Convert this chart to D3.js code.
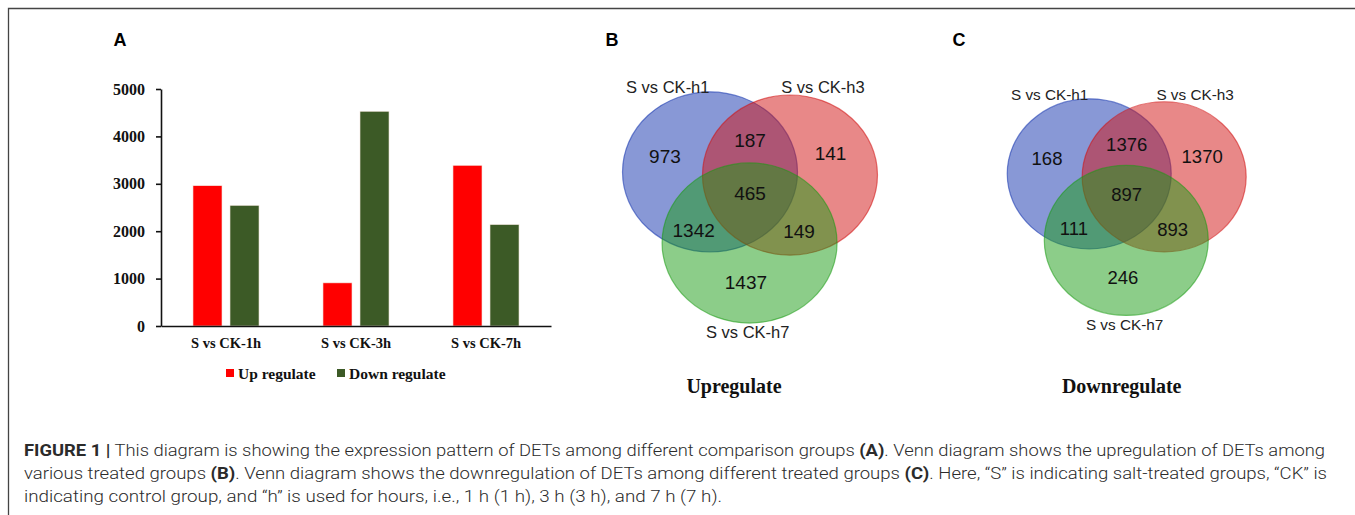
<!DOCTYPE html>
<html>
<head>
<meta charset="utf-8">
<script src="https://cdn.jsdelivr.net/npm/d3@7"></script>
<style>
  body { margin: 0; background: #fff; }
  svg { display: block; }
</style>
</head>
<body>
<div id="chart"></div>
<script>
// bar chart data (panel A)
let groups = ['S vs CK-1h', 'S vs CK-3h', 'S vs CK-7h']
let series = ['Up regulate', 'Down regulate']
let upValues = [2960, 910, 3390]
let downValues = [2545, 4530, 2140]
let yTicks = [0, 1000, 2000, 3000, 4000, 5000]

// venn data (panels B and C)
let vennSets = ['S vs CK-h1', 'S vs CK-h3', 'S vs CK-h7']
let vennRegions = ['h1', 'h1&h3', 'h3', 'h1&h3&h7', 'h1&h7', 'h3&h7', 'h7']
let upCounts = [973, 187, 141, 465, 1342, 149, 1437]
let downCounts = [168, 1376, 1370, 897, 111, 893, 246]

let barColors = { 'Up regulate': '#ff0000', 'Down regulate': '#3c5a26' }
let vennColors = ['#1131ad', '#d11111', '#199b13']

let svg = d3
  .select('#chart')
  .append('svg')
  .attr('width', 1355)
  .attr('height', 515)

// frame
svg
  .append('path')
  .attr('d', 'M8.5,515 V8.5 H1355')
  .attr('fill', 'none')
  .attr('stroke', '#444')
  .attr('stroke-width', 1.3)

// panel letters
let letters = [
  { t: 'A', x: 113.5 },
  { t: 'B', x: 605.5 },
  { t: 'C', x: 952.5 }
]
svg
  .selectAll('.panel-letter')
  .data(letters)
  .enter()
  .append('text')
  .attr('class', 'panel-letter')
  .attr('x', d => d.x)
  .attr('y', 46)
  .attr('font-family', 'Liberation Sans, Arial, sans-serif')
  .attr('font-weight', 'bold')
  .attr('font-size', 18)
  .text(d => d.t)

// ---------- panel A: grouped bars ----------
let xPositionScale = d3
  .scaleBand()
  .domain(groups)
  .range([161, 551])
  .paddingInner(0.492)
  .paddingOuter(0.246)

let xSubScale = d3
  .scaleBand()
  .domain(series)
  .range([0, xPositionScale.bandwidth()])
  .paddingInner(0.216)

let yPositionScale = d3.scaleLinear().domain([0, 5000]).range([326, 89])

let barData = groups.map((g, i) => ({
  group: g,
  values: [
    { key: 'Up regulate', value: upValues[i] },
    { key: 'Down regulate', value: downValues[i] }
  ]
}))

let barG = svg
  .selectAll('.bar-group')
  .data(barData)
  .enter()
  .append('g')
  .attr('class', 'bar-group')
  .attr('transform', d => `translate(${xPositionScale(d.group)},0)`)

barG
  .selectAll('rect')
  .data(d => d.values)
  .enter()
  .append('rect')
  .attr('x', d => xSubScale(d.key))
  .attr('width', xSubScale.bandwidth())
  .attr('y', d => yPositionScale(d.value))
  .attr('height', d => yPositionScale(0) - yPositionScale(d.value))
  .attr('fill', d => barColors[d.key])
  .attr('stroke', '#f4e8e0')
  .attr('stroke-width', 0.6)

let yAxis = d3
  .axisLeft(yPositionScale)
  .tickValues(yTicks)
  .tickFormat(d3.format('d'))
  .tickSize(5)
  .tickSizeOuter(0)
  .tickPadding(11)

let yAxisG = svg
  .append('g')
  .attr('class', 'axis y-axis')
  .attr('transform', 'translate(161,0)')
  .call(yAxis)

let xAxis = d3
  .axisBottom(xPositionScale)
  .tickSize(0)
  .tickSizeOuter(0)
  .tickPadding(11.5)

let xAxisG = svg
  .append('g')
  .attr('class', 'axis x-axis')
  .attr('transform', 'translate(0,326)')
  .call(xAxis)

svg
  .selectAll('.axis')
  .attr('font-family', 'Liberation Serif, Times New Roman, serif')
  .attr('font-weight', 'bold')
svg.selectAll('.axis path, .axis line').attr('stroke', '#111').attr('stroke-width', 1.6)
svg.selectAll('.axis text').attr('fill', '#111')
yAxisG.attr('font-size', 16)
xAxisG.attr('font-size', 14.5)

// legend
let legendX = [226, 337]
let legend = svg
  .selectAll('.legend-item')
  .data(series)
  .enter()
  .append('g')
  .attr('class', 'legend-item')
  .attr('transform', (d, i) => `translate(${legendX[i]},369)`)

legend
  .append('rect')
  .attr('width', 8)
  .attr('height', 8)
  .attr('fill', d => barColors[d])

legend
  .append('text')
  .attr('x', 12)
  .attr('y', 10)
  .attr('font-family', 'Liberation Serif, Times New Roman, serif')
  .attr('font-weight', 'bold')
  .attr('font-size', 15.5)
  .attr('fill', '#111')
  .text(d => d)

// ---------- panels B and C: venn diagrams ----------
// layout in units of the ellipse x-radius
let circleOffsets = [
  { dx: -0.457, dy: -0.018 },
  { dx: 0.457, dy: 0.018 },
  { dx: -0.005, dy: 0.794 }
]
let regionOffsets = [
  { dx: -0.972, dy: -0.2 },
  { dx: 0, dy: -0.38 },
  { dx: 0.92, dy: -0.228 },
  { dx: 0, dy: 0.232 },
  { dx: -0.644, dy: 0.648 },
  { dx: 0.56, dy: 0.664 },
  { dx: -0.047, dy: 1.248 }
]
let setLabelOffsets = [
  { dx: -0.94, dy: -0.917 },
  { dx: 0.834, dy: -0.917 },
  { dx: -0.026, dy: 1.885 }
]

function drawVenn(opts) {
  let r = opts.rx
  let g = svg
    .append('g')
    .attr('transform', `translate(${opts.cx},${opts.cy})`)

  g.selectAll('ellipse')
    .data(vennSets)
    .enter()
    .append('ellipse')
    .attr('cx', (d, i) => circleOffsets[i].dx * r)
    .attr('cy', (d, i) => circleOffsets[i].dy * r)
    .attr('rx', r)
    .attr('ry', r * 0.915)
    .attr('fill', (d, i) => vennColors[i])
    .attr('fill-opacity', 0.5)
    .attr('stroke', (d, i) => vennColors[i])
    .attr('stroke-opacity', 0.55)
    .attr('stroke-width', 1.2)

  g.selectAll('.region-text')
    .data(vennRegions.map((k, i) => ({ key: k, value: opts.counts[i] })))
    .enter()
    .append('text')
    .attr('class', 'region-text')
    .attr('x', (d, i) => regionOffsets[i].dx * r)
    .attr('y', (d, i) => regionOffsets[i].dy * r)
    .attr('dy', '0.35em')
    .attr('text-anchor', 'middle')
    .attr('font-family', 'Liberation Sans, Arial, sans-serif')
    .attr('font-size', opts.numSize)
    .attr('fill', '#111')
    .text(d => d.value)

  g.selectAll('.set-text')
    .data(vennSets)
    .enter()
    .append('text')
    .attr('class', 'set-text')
    .attr('x', (d, i) => setLabelOffsets[i].dx * r)
    .attr('y', (d, i) => setLabelOffsets[i].dy * r)
    .attr('text-anchor', 'middle')
    .attr('font-family', 'Liberation Sans, Arial, sans-serif')
    .attr('font-size', opts.labelSize)
    .attr('fill', '#222')
    .text(d => d)

  svg
    .append('text')
    .attr('x', opts.titleX)
    .attr('y', 393)
    .attr('text-anchor', 'middle')
    .attr('font-family', 'Liberation Serif, Times New Roman, serif')
    .attr('font-weight', 'bold')
    .attr('font-size', 20)
    .attr('fill', '#111')
    .text(opts.title)
}

drawVenn({
  cx: 750, cy: 173.5, rx: 87.5, counts: upCounts,
  numSize: 19, labelSize: 16.5, title: 'Upregulate', titleX: 734
})
drawVenn({
  cx: 1126.7, cy: 175.3, rx: 82, counts: downCounts,
  numSize: 18.5, labelSize: 15.3, title: 'Downregulate', titleX: 1121.7
})

// ---------- caption ----------
let captionLines = [
  [
    { t: 'FIGURE 1 |', b: true },
    { t: ' This diagram is showing the expression pattern of DETs among different comparison groups ' },
    { t: '(A)', b: true },
    { t: '. Venn diagram shows the upregulation of DETs among' }
  ],
  [
    { t: 'various treated groups ' },
    { t: '(B)', b: true },
    { t: '. Venn diagram shows the downregulation of DETs among different treated groups ' },
    { t: '(C)', b: true },
    { t: '. Here, \u201cS\u201d is indicating salt-treated groups, \u201cCK\u201d is' }
  ],
  [
    { t: 'indicating control group, and \u201ch\u201d is used for hours, i.e., 1 h (1 h), 3 h (3 h), and 7 h (7 h).' }
  ]
]
let captionWidths = [1301, 1303, 698]

let caption = svg
  .selectAll('.caption-line')
  .data(captionLines)
  .enter()
  .append('text')
  .attr('class', 'caption-line')
  .attr('x', 24)
  .attr('y', (d, i) => 455.5 + i * 23.3)
  .attr('font-family', 'Roboto, Liberation Sans, sans-serif')
  .attr('font-weight', 300)
  .attr('font-size', 15.8)
  .attr('fill', '#2b2b2b')
  .attr('textLength', (d, i) => captionWidths[i])
  .attr('lengthAdjust', 'spacingAndGlyphs')

caption
  .selectAll('tspan')
  .data(d => d)
  .enter()
  .append('tspan')
  .attr('font-weight', d => (d.b ? 'bold' : null))
  .text(d => d.t)
</script>
</body>
</html>
